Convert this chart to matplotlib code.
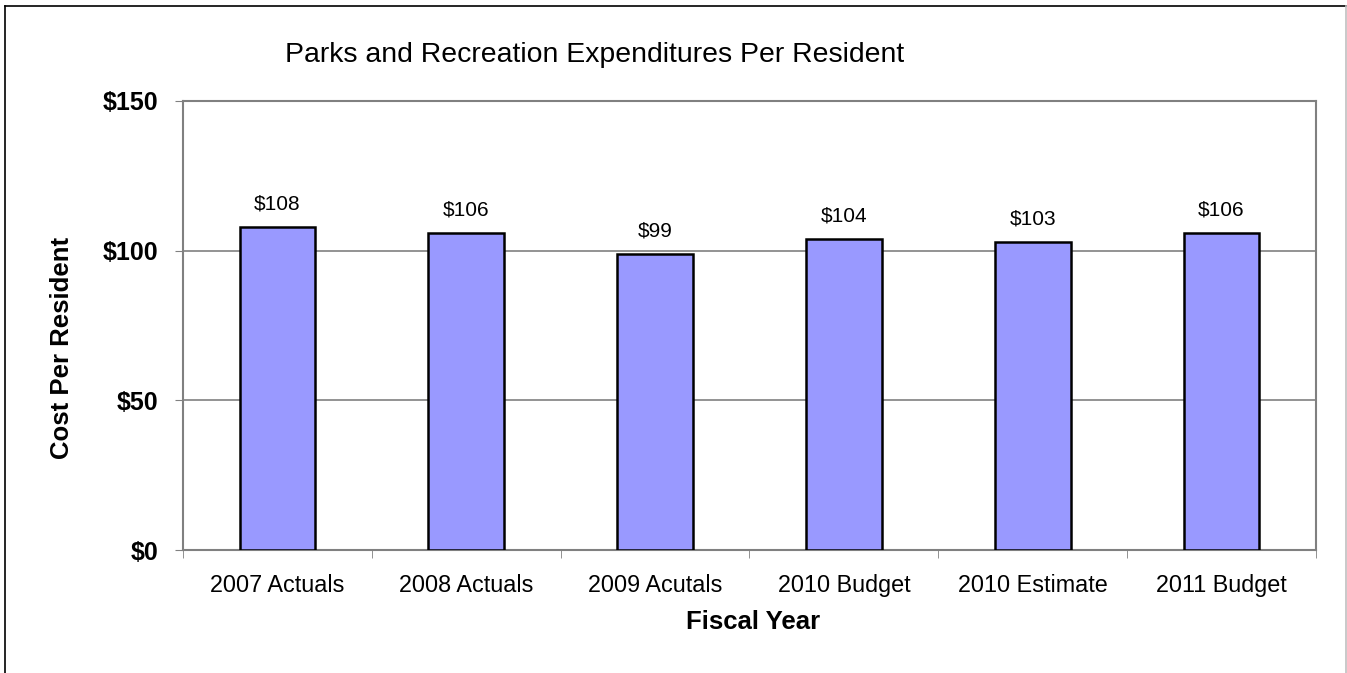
import numpy as np
import matplotlib.pyplot as plt
from matplotlib.lines import Line2D

plt.rcParams['font.family'] = ['Liberation Sans', 'DejaVu Sans']

# fiscal years and cost per resident
years = ['2007 Actuals', '2008 Actuals', '2009 Acutals', '2010 Budget',
         '2010 Estimate', '2011 Budget']
cost = [108, 106, 99, 104, 103, 106]

W, H = 1347, 673
fig = plt.figure(figsize=(W / 100, H / 100), dpi=100)
ax = fig.add_axes([183 / W, 1 - 550 / H, (1316 - 183) / W, (550 - 101) / H])

x = np.arange(len(years))
ax.bar(x, cost, width=0.4, color='#9999ff', edgecolor='black', linewidth=1.8, zorder=3)
for xi, v in zip(x, cost):
    ax.text(xi, v + 4.5, f'${v}', ha='center', va='bottom', fontsize=15)

ax.set_xlim(-0.5, len(years) - 0.5)
ax.set_ylim(0, 150)
ax.set_yticks([0, 50, 100, 150])
ax.set_yticklabels(['$0', '$50', '$100', '$150'], fontsize=18, fontweight='bold')
ax.yaxis.grid(True, color='#808080', linewidth=1.2, zorder=0)

ax.set_xticks(x)
ax.set_xticklabels(years, fontsize=16.8)
ax.set_xticks(np.arange(len(years) + 1) - 0.5, minor=True)
ax.tick_params(axis='x', which='major', length=0, pad=17)
ax.tick_params(axis='x', which='minor', length=6, color='#808080')
ax.tick_params(axis='y', length=6, color='#808080', pad=12)

for s in ax.spines.values():
    s.set_color('#808080')
    s.set_linewidth(1.5)

fig.text(753 / W, 1 - 622 / H, 'Fiscal Year', ha='center', va='center',
         fontsize=18.5, fontweight='bold')
fig.text(62 / W, 1 - 348 / H, 'Cost Per Resident', ha='center', va='center',
         rotation=90, fontsize=18.5, fontweight='bold')
fig.text(595 / W, 1 - 55 / H, 'Parks and Recreation Expenditures Per Resident',
         ha='center', va='center', fontsize=20.4)

# frame around the chart
fig.add_artist(Line2D([0.0037, 0.0037], [0, 0.991], color='black', lw=1.2,
                      transform=fig.transFigure))
fig.add_artist(Line2D([0.0037, 0.9993], [0.991, 0.991], color='black', lw=1.2,
                      transform=fig.transFigure))
fig.add_artist(Line2D([0.9993, 0.9993], [0, 0.991], color='#c0c0c0', lw=1.2,
                      transform=fig.transFigure))

fig.savefig('out.png', dpi=100)
